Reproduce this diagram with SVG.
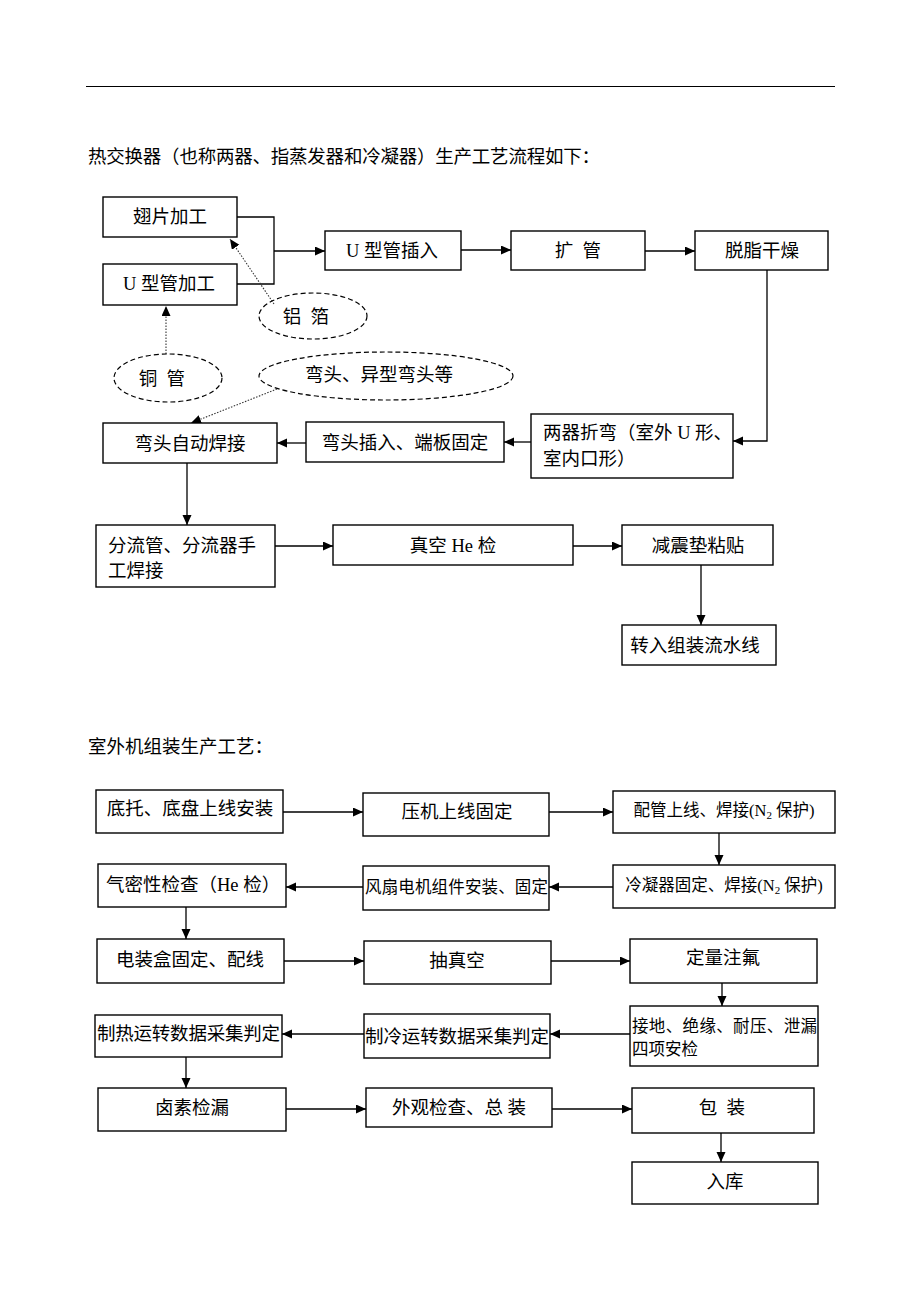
<svg xmlns="http://www.w3.org/2000/svg" width="920" height="1302" viewBox="0 0 920 1302">
<style>
text{font-family:"Liberation Serif","Noto Sans CJK SC",serif;fill:#000;white-space:pre}
.t{font-size:18.5px}
.s{font-size:16.5px}
.c{text-anchor:middle}
.box{fill:#fff;stroke:#000;stroke-width:1.4}
.ell{fill:none;stroke:#000;stroke-width:1.2;stroke-dasharray:5 3}
.ln{fill:none;stroke:#000;stroke-width:1.3}
.dot{fill:none;stroke:#333;stroke-width:1.1;stroke-dasharray:1.5 1.5}
</style>
<defs>
<marker id="ah" markerUnits="userSpaceOnUse" markerWidth="11" markerHeight="10" refX="10" refY="4.5" orient="auto"><path d="M0,0 L10,4.5 L0,9 z" fill="#000"/></marker>
</defs>
<rect width="920" height="1302" fill="#fff"/>
<line x1="86" y1="86.5" x2="835" y2="86.5" stroke="#000" stroke-width="1"/>
<text class="t" x="88" y="163" textLength="512" lengthAdjust="spacing">热交换器（也称两器、指蒸发器和冷凝器）生产工艺流程如下：</text>
<text class="t" x="88" y="753">室外机组装生产工艺：</text>

<g id="connectors">
<path class="ln" d="M237,217 H274 V284 H237"/>
<path class="ln" d="M274,251 H325" marker-end="url(#ah)"/>
<path class="ln" d="M461,250 H511" marker-end="url(#ah)"/>
<path class="ln" d="M645,251 H695" marker-end="url(#ah)"/>
<path class="ln" d="M767,270 V441 H733" marker-end="url(#ah)"/>
<path class="ln" d="M531,442 H504" marker-end="url(#ah)"/>
<path class="ln" d="M306,443 H277" marker-end="url(#ah)"/>
<path class="ln" d="M187,463 V525" marker-end="url(#ah)"/>
<path class="ln" d="M275,546 H333" marker-end="url(#ah)"/>
<path class="ln" d="M573,546 H622" marker-end="url(#ah)"/>
<path class="ln" d="M701,565 V625" marker-end="url(#ah)"/>
<path class="dot" d="M274,304 L230,239" marker-end="url(#ah)"/>
<path class="dot" d="M166,354 V306" marker-end="url(#ah)"/>
<path class="dot" d="M277,389 L191,423" marker-end="url(#ah)"/>

<path class="ln" d="M283,812 H363" marker-end="url(#ah)"/>
<path class="ln" d="M549,812 H613" marker-end="url(#ah)"/>
<path class="ln" d="M719,833 V865" marker-end="url(#ah)"/>
<path class="ln" d="M613,887 H549" marker-end="url(#ah)"/>
<path class="ln" d="M363,887 H286" marker-end="url(#ah)"/>
<path class="ln" d="M186,907 V939" marker-end="url(#ah)"/>
<path class="ln" d="M284,961 H364" marker-end="url(#ah)"/>
<path class="ln" d="M551,961 H630" marker-end="url(#ah)"/>
<path class="ln" d="M722,983 V1006" marker-end="url(#ah)"/>
<path class="ln" d="M630,1034 H550" marker-end="url(#ah)"/>
<path class="ln" d="M364,1034 H282" marker-end="url(#ah)"/>
<path class="ln" d="M186,1057 V1088" marker-end="url(#ah)"/>
<path class="ln" d="M286,1109 H366" marker-end="url(#ah)"/>
<path class="ln" d="M552,1109 H632" marker-end="url(#ah)"/>
<path class="ln" d="M721,1133 V1162" marker-end="url(#ah)"/>
</g>

<g id="n_fin"><rect class="box" x="103" y="197" width="134" height="40"/><text class="t c" x="170" y="223">翅片加工</text></g>
<g id="n_utube"><rect class="box" x="103" y="264" width="134" height="41"/><text class="t c" x="169" y="290">U 型管加工</text></g>
<g id="n_insert"><rect class="box" x="325" y="231" width="136" height="39"/><text class="t c" x="392" y="257">U 型管插入</text></g>
<g id="n_expand"><rect class="box" x="511" y="231" width="134" height="39"/><text class="t c" x="578" y="257">扩  管</text></g>
<g id="n_degrease"><rect class="box" x="695" y="231" width="133" height="39"/><text class="t c" x="762" y="257">脱脂干燥</text></g>
<g id="n_bend"><rect class="box" x="531" y="414" width="202" height="64"/><text class="t" x="543" y="439">两器折弯（室外 U 形、</text><text class="t" x="543" y="465">室内口形）</text></g>
<g id="n_elbowinsert"><rect class="box" x="306" y="422" width="198" height="40"/><text class="t c" x="405" y="449">弯头插入、端板固定</text></g>
<g id="n_autoweld"><rect class="box" x="103" y="423" width="174" height="40"/><text class="t c" x="190" y="450">弯头自动焊接</text></g>
<g id="n_manifold"><rect class="box" x="96" y="525" width="179" height="62"/><text class="t" x="108" y="552">分流管、分流器手</text><text class="t" x="108" y="577">工焊接</text></g>
<g id="n_vacuum"><rect class="box" x="333" y="525" width="240" height="40"/><text class="t c" x="453" y="552">真空 He 检</text></g>
<g id="n_pad"><rect class="box" x="622" y="525" width="151" height="40"/><text class="t c" x="698" y="552">减震垫粘贴</text></g>
<g id="n_transfer"><rect class="box" x="622" y="625" width="154" height="40"/><text class="t c" x="695" y="652">转入组装流水线</text></g>

<g id="e_foil"><ellipse class="ell" cx="313" cy="316" rx="54" ry="23"/><text class="t c" x="306" y="323">铝  箔</text></g>
<g id="e_copper"><ellipse class="ell" cx="168" cy="378" rx="54" ry="24"/><text class="t c" x="162" y="385">铜  管</text></g>
<g id="e_elbow"><ellipse class="ell" cx="386" cy="376" rx="127" ry="24"/><text class="t c" x="379" y="381">弯头、异型弯头等</text></g>

<g id="r_base"><rect class="box" x="96" y="790" width="187" height="43"/><text class="t c" x="190" y="815">底托、底盘上线安装</text></g>
<g id="r_comp"><rect class="box" x="363" y="793" width="186" height="43"/><text class="t c" x="457" y="818">压机上线固定</text></g>
<g id="r_pipe"><rect class="box" x="613" y="791" width="222" height="42"/><text class="s c" x="724" y="816">配管上线、焊接(N<tspan font-size="11" dy="3">2</tspan><tspan dy="-3"> 保护)</tspan></text></g>
<g id="r_cond"><rect class="box" x="613" y="865" width="222" height="43"/><text class="s c" x="724" y="891">冷凝器固定、焊接(N<tspan font-size="11" dy="3">2</tspan><tspan dy="-3"> 保护)</tspan></text></g>
<g id="r_fan"><rect class="box" x="363" y="866" width="186" height="44"/><text class="s" x="365" y="893" textLength="183" lengthAdjust="spacing">风扇电机组件安装、固定</text></g>
<g id="r_airtight"><rect class="box" x="98" y="864" width="188" height="43"/><text class="t" x="106" y="891">气密性检查（He 检）</text></g>
<g id="r_ebox"><rect class="box" x="97" y="939" width="187" height="44"/><text class="t c" x="190" y="966">电装盒固定、配线</text></g>
<g id="r_evac"><rect class="box" x="364" y="941" width="187" height="43"/><text class="t c" x="457" y="967">抽真空</text></g>
<g id="r_charge"><rect class="box" x="630" y="939" width="187" height="44"/><text class="t c" x="723" y="964">定量注氟</text></g>
<g id="r_safety"><rect class="box" x="630" y="1006" width="188" height="60"/><text class="s" x="632" y="1032" textLength="185" lengthAdjust="spacing">接地、绝缘、耐压、泄漏</text><text class="s" x="632" y="1055">四项安检</text></g>
<g id="r_cool"><rect class="box" x="364" y="1014" width="186" height="44"/><text class="t" x="365" y="1043" textLength="184" lengthAdjust="spacing">制冷运转数据采集判定</text></g>
<g id="r_heat"><rect class="box" x="95" y="1015" width="187" height="42"/><text class="t" x="97" y="1040" textLength="183" lengthAdjust="spacing">制热运转数据采集判定</text></g>
<g id="r_halogen"><rect class="box" x="98" y="1088" width="188" height="43"/><text class="t c" x="192" y="1114">卤素检漏</text></g>
<g id="r_final"><rect class="box" x="366" y="1088" width="186" height="39"/><text class="t c" x="459" y="1114">外观检查、总 装</text></g>
<g id="r_pack"><rect class="box" x="632" y="1088" width="182" height="45"/><text class="t c" x="722" y="1114">包  装</text></g>
<g id="r_store"><rect class="box" x="632" y="1162" width="186" height="42"/><text class="t c" x="725" y="1188">入库</text></g>
</svg>
